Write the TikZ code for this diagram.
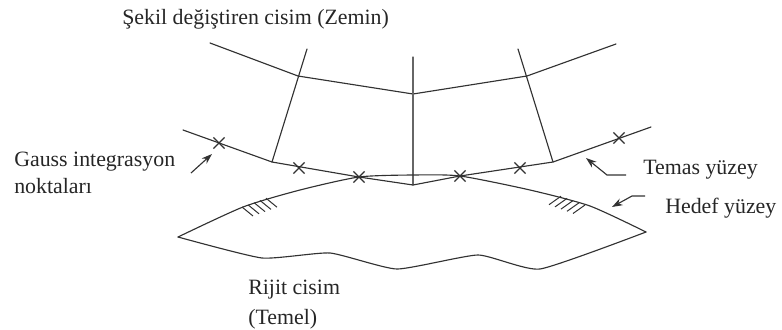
\documentclass[tikz,border=0pt]{standalone}
\usepackage{fontspec}
\setmainfont{Liberation Serif}
\usetikzlibrary{arrows.meta,shapes.misc}
\definecolor{inkgray}{RGB}{50,50,50}
\tikzset{
	bodyline/.style={line width=0.85pt,color=inkgray,line cap=round,line join=round},
	gaussmark/.style={cross out,draw=inkgray,line width=0.9pt,minimum size=7.5pt,inner sep=0pt},
	pointer/.style={-{Stealth[length=8pt,width=5.5pt]},line width=0.85pt,color=inkgray},
	label/.style={anchor=base west,inner sep=0pt,font=\fontsize{16.4}{18}\selectfont,color=black!85}
}
\begin{document}
\begin{tikzpicture}[x=0.75pt,y=-0.75pt]
	\useasboundingbox (0,0) rectangle (782,329);
	% deformable body
	\draw [bodyline] (210,43)-- (298,76)-- (413,94)-- (527,76)-- (616,44);
	\draw [bodyline] (307,49)-- (272,162);
	\draw [bodyline] (518,49)-- (553,162);
	\draw [bodyline,color=black!60] (413,57)-- (413,185);
	% contact surface
	\draw [bodyline] (183,130)-- (272,162)-- (359,177)-- (413,185)-- (460,176)-- (553,162)-- (651,127);
	% target surface
	\draw [bodyline] plot [smooth,tension=0.4] coordinates {(178,237) (243,207) (300,190) (359,177) (413,175) (460,176) (530,190) (590,206) (646,232)};
	\draw [bodyline] plot [smooth,tension=0.3] coordinates {(178,237) (262,258) (330,253) (397,269) (478,255) (540,269) (646,232)};
	% hatching
	\foreach \i in {0,...,4} {
		\draw [line width=0.75pt,color=inkgray] (242+6*\i,207-2.2*\i)-- ++(11,9);
		\draw [line width=0.75pt,color=inkgray] (585-6*\i,205-2.2*\i)-- ++(-12,8.5);
	}
	% integration points
	\node [gaussmark] (g1) at (219,143) {};
	\node [gaussmark] (g2) at (299,168) {};
	\node [gaussmark] (g3) at (359,177) {};
	\node [gaussmark] (g4) at (460,176) {};
	\node [gaussmark] (g5) at (520,168) {};
	\node [gaussmark] (g6) at (619,138) {};
	% labels
	\node [label] (zemin) at (122,24) {Şekil değiştiren cisim (Zemin)};
	\node [label] (gauss) at (14,166) {Gauss integrasyon};
	\node [label] (nokta) at (14,193) {noktaları};
	\node [label] (temas) at (643,174) {Temas yüzey};
	\node [label] (hedef) at (665,213) {Hedef yüzey};
	\node [label] (rijit) at (248,294) {Rijit cisim};
	\node [label] (temel) at (248,324) {(Temel)};
	% pointers
	\coordinate (gaussA) at (191,173);
	\coordinate (gaussB) at (212,154);
	\coordinate (temasA) at (626,175);
	\coordinate (temasB) at (607,175);
	\coordinate (temasC) at (586,158);
	\coordinate (hedefA) at (645,196);
	\coordinate (hedefB) at (632,196);
	\coordinate (hedefC) at (612,207);
	\draw [pointer] (gaussA) -- (gaussB);
	\draw [pointer] (temasA) -- (temasB) -- (temasC);
	\draw [pointer] (hedefA) -- (hedefB) -- (hedefC);
\end{tikzpicture}
\end{document}
